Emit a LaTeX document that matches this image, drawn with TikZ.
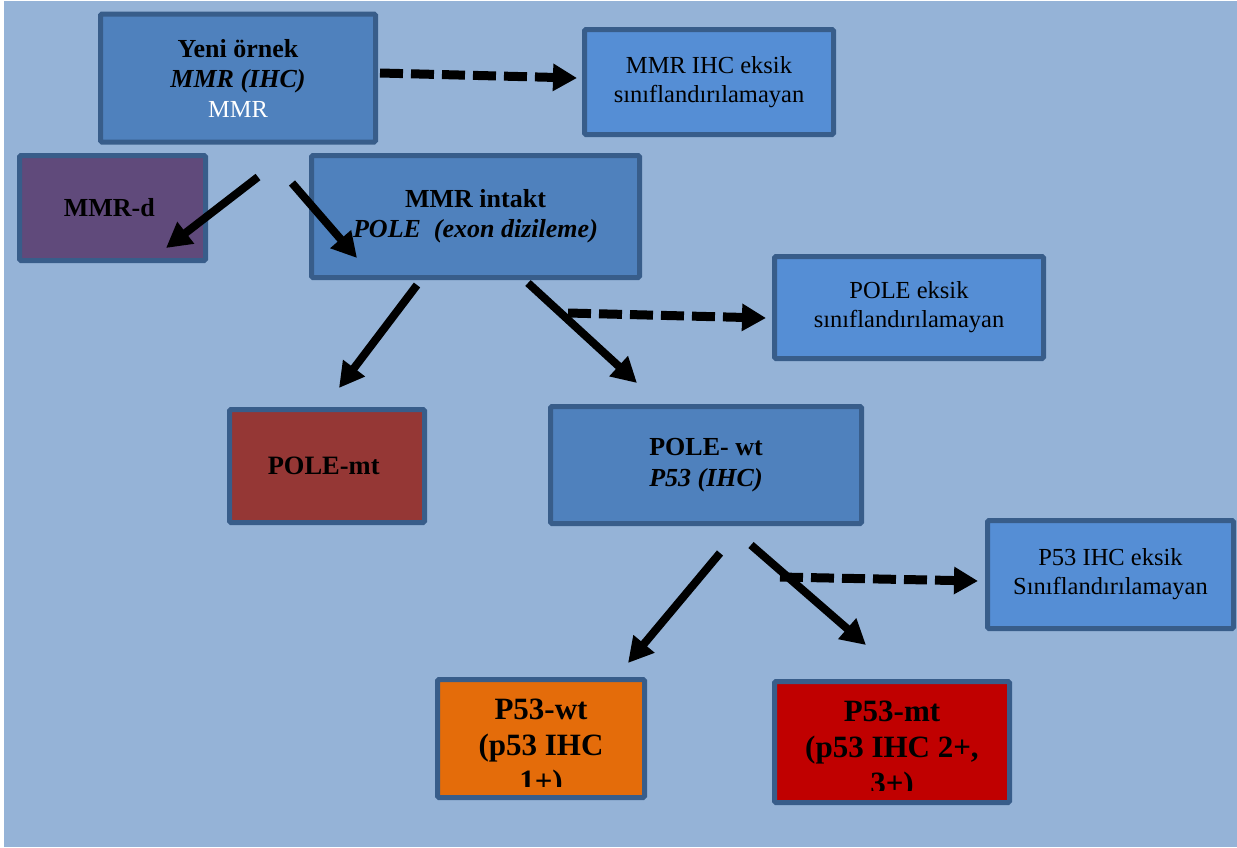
\documentclass[tikz,border=0pt]{standalone}
\usepackage{fontspec}
\setmainfont{Liberation Serif}
\usepackage{tikz}
\usetikzlibrary{arrows.meta, positioning, shapes}

\definecolor{bgblue}{HTML}{95B3D7}
\definecolor{edgeblue}{HTML}{385D8A}
\definecolor{midblue}{HTML}{4F81BD}
\definecolor{liteblue}{HTML}{558ED5}
\definecolor{mmrpurple}{HTML}{604A7B}
\definecolor{polered}{HTML}{953735}
\definecolor{wtorange}{HTML}{E46C0A}
\definecolor{mtred}{HTML}{C00000}

\newcommand{\bfsz}{\fontsize{26}{30}\selectfont}
\newcommand{\rmsz}{\fontsize{24.5}{29}\selectfont}
\newcommand{\bigsz}{\fontsize{31}{36}\selectfont}

\begin{document}
\begin{tikzpicture}[x=1pt, y=-1pt,
	box/.style={draw=edgeblue, line width=5pt, rounded corners=1.5pt, align=center, inner sep=0pt},
	solidarrow/.style={draw, line width=8pt, -{Triangle[length=25pt, width=26pt]}},
	dasharrow/.style={draw, line width=9pt, dash pattern=on 23pt off 8pt, -{Triangle[length=24pt, width=26pt]}}
]

\useasboundingbox (0,0) rectangle (1237,847);
\fill [white] (0,0) rectangle (1237,847);
\fill [bgblue] (4,1) rectangle (1237,847);

\node [box, fill=midblue, minimum width=275pt, minimum height=128pt, font=\bfsz] (yeni) at (238,78) {
	\textbf{Yeni örnek} \\
	\textbf{\textit{MMR (IHC)}} \\
	{\rmsz\textcolor{white}{MMR}}
};

\node [box, fill=liteblue, minimum width=249pt, minimum height=105pt, font=\rmsz] (mmreksik) at (709,82) {
	MMR IHC eksik \\
	sınıflandırılamayan
};

\node [box, fill=mmrpurple, minimum width=186pt, minimum height=105pt, font=\bfsz] (mmrd) at (112.5,208) {
	\textbf{MMR-d}
};

\node [box, fill=midblue, minimum width=328pt, minimum height=122pt, font=\bfsz] (intakt) at (475.5,216.5) {
	\textbf{MMR intakt} \\
	\textbf{\textit{POLE\ \ (exon dizileme)}}
};

\node [box, fill=liteblue, minimum width=269pt, minimum height=102pt, font=\rmsz] (poleeksik) at (909,307.5) {
	POLE eksik \\
	sınıflandırılamayan
};

\node [box, fill=polered, minimum width=195pt, minimum height=113pt, font=\fontsize{26.5}{31}\selectfont] (polemt) at (327,466) {
	\textbf{POLE-mt}
};

\node [box, fill=midblue, minimum width=311pt, minimum height=117pt, font=\fontsize{26}{31}\selectfont] (polewt) at (706,465) {
	\textbf{POLE- wt} \\
	\textbf{\textit{P53 (IHC)}}
};

\node [box, fill=liteblue, minimum width=246pt, minimum height=108pt, font=\rmsz] (p53eksik) at (1110.5,574.5) {
	P53 IHC eksik \\
	Sınıflandırılamayan
};

\node [box, fill=wtorange, minimum width=207pt, minimum height=118pt] (p53wt) at (541,738.5) {};
\begin{scope}
	\clip (438,679) rectangle (644,786);
	\node [align=center, anchor=north, inner sep=0pt, font=\bigsz] (p53wttext) at (541,699) {
		\textbf{P53-wt} \\
		\textbf{(p53 IHC} \\
		\textbf{1+)}
	};
\end{scope}

\node [box, fill=mtred, minimum width=235pt, minimum height=121pt] (p53mt) at (892,742) {};
\begin{scope}
	\clip (775,682) rectangle (1009,790);
	\node [align=center, anchor=north, inner sep=0pt, font=\bigsz] (p53mttext) at (892,701) {
		\textbf{P53-mt} \\
		\textbf{(p53 IHC 2+,} \\
		\textbf{3+)}
	};
\end{scope}

\coordinate (y1) at (380,73);
\coordinate (y2) at (577,78);
\coordinate (y3) at (258,177);
\coordinate (y4) at (166,248);
\coordinate (y5) at (292,183);
\coordinate (y6) at (357,258);
\coordinate (i1) at (417,285);
\coordinate (i2) at (339,388);
\coordinate (i3) at (528,283);
\coordinate (i4) at (637,383);
\coordinate (i5) at (568,313);
\coordinate (i6) at (766,318);
\coordinate (w1) at (720,553);
\coordinate (w2) at (628,663);
\coordinate (w3) at (751,545);
\coordinate (w4) at (866,645);
\coordinate (w5) at (780,577);
\coordinate (w6) at (978,581);

\path [dasharrow] (y1) -- (y2);
\path [solidarrow] (y3) -- (y4);
\path [solidarrow] (y5) -- (y6);
\path [solidarrow] (i1) -- (i2);
\path [solidarrow] (i3) -- (i4);
\path [dasharrow] (i5) -- (i6);
\path [solidarrow] (w1) -- (w2);
\path [solidarrow] (w3) -- (w4);
\path [dasharrow] (w5) -- (w6);

\end{tikzpicture}
\end{document}
